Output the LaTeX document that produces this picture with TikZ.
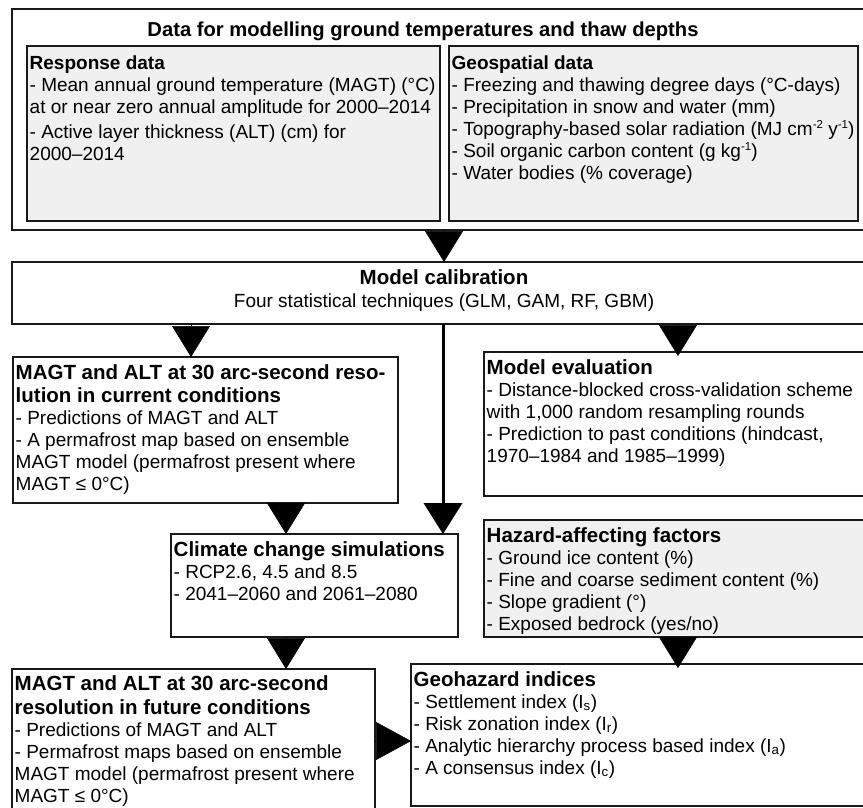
\documentclass[tikz,border=0pt]{standalone}
\usepackage{fontspec}
\setmainfont{Liberation Sans}
\usetikzlibrary{arrows.meta,positioning}
\def\headsm#1{{\fontsize{19}{22}\selectfont\bfseries #1}}
\def\headlg#1{{\fontsize{20.5}{24}\selectfont\bfseries #1}}
\def\upidx#1{\raisebox{7pt}{\fontsize{11.5}{12}\selectfont #1}}

\begin{document}
\begin{tikzpicture}[x=1pt, y=-1pt,
    box/.style={draw=black!90, line width=1.8pt, fill=white, anchor=north west, inner sep=0pt, outer sep=0pt},
    gbox/.style={box, fill=black!6},
    txt/.style={align=left, inner sep=0pt, font=\fontsize{19}{22}\selectfont},
    tri/.style={-{Triangle[width=38pt,length=#1]}, line width=0.5pt},
    tri/.default=31pt]
    \useasboundingbox (0,0) rectangle (863,808);
    \clip (0,0) rectangle (863,808);
    % boxes
    \node[box, minimum width=854pt, minimum height=221pt] (data) at (12,9) {};
    \node[gbox, minimum width=413pt, minimum height=175pt] (resp) at (27,46) {};
    \node[gbox, minimum width=409pt, minimum height=175pt] (geo) at (449,46) {};
    \node[box, minimum width=864pt, minimum height=62pt] (mcal) at (12,262) {};
    \node[box, minimum width=385pt, minimum height=146pt] (cur) at (13,357) {};
    \node[box, minimum width=382pt, minimum height=144pt] (eval) at (484,352) {};
    \node[gbox, minimum width=382pt, minimum height=117pt] (haz) at (484,520) {};
    \node[box, minimum width=287pt, minimum height=103pt] (clim) at (171,534) {};
    \node[box, minimum width=363pt, minimum height=145pt] (fut) at (12,669) {};
    \node[box, minimum width=455pt, minimum height=142pt] (ghz) at (411,664) {};
    % texts
    \node[txt, below=13pt of data.north, xshift=-16pt] (data-t) {\headsm{\fontsize{20.2}{24}\selectfont Data for modelling ground temperatures and thaw depths}};
    \node[txt, below right=10pt and 2.5pt of resp.north west] (resp-t) {\headsm{Response data}\\
        - Mean annual ground temperature (MAGT) (°C)\\
        at or near zero annual amplitude for 2000–2014\\[3pt]
        - Active layer thickness (ALT) (cm) for\\
        2000–2014};
    \node[txt, below right=10pt and 2.5pt of geo.north west] (geo-t) {\headsm{Geospatial data}\\
        - Freezing and thawing degree days (°C-days)\\
        - Precipitation in snow and water (mm)\\
        - Topography-based solar radiation (MJ cm\upidx{-2} y\upidx{-1})\\
        - Soil organic carbon content (g kg\upidx{-1})\\
        - Water bodies (\% coverage)};
    \node[txt, align=center, below=7pt of mcal.north] (mcal-t) {\headlg{Model calibration}\\[1pt]
        Four statistical techniques (GLM, GAM, RF, GBM)};
    \node[txt, below right=7pt and 2.5pt of cur.north west] (cur-t) {\headlg{MAGT and ALT at 30 arc-second reso-}\\[1pt]
        \headlg{lution in current conditions}\\
        - Predictions of MAGT and ALT\\
        - A permafrost map based on ensemble\\
        MAGT model (permafrost present where\\
        MAGT ≤ 0°C)};
    \node[txt, below right=7pt and 2.5pt of eval.north west] (eval-t) {\headlg{Model evaluation}\\
        - Distance-blocked cross-validation scheme\\
        with 1,000 random resampling rounds\\
        - Prediction to past conditions (hindcast,\\
        1970–1984 and 1985–1999)};
    \node[txt, below right=7pt and 2.5pt of haz.north west] (haz-t) {\headlg{Hazard-affecting factors}\\
        - Ground ice content (\%)\\
        - Fine and coarse sediment content (\%)\\
        - Slope gradient (°)\\
        - Exposed bedrock (yes/no)};
    \node[txt, below right=7pt and 2.5pt of clim.north west] (clim-t) {\headlg{Climate change simulations}\\
        - RCP2.6, 4.5 and 8.5\\
        - 2041–2060 and 2061–2080};
    \node[txt, below right=6pt and 2.5pt of fut.north west] (fut-t) {\headlg{MAGT and ALT at 30 arc-second}\\[2pt]
        \headlg{resolution in future conditions}\\
        - Predictions of MAGT and ALT\\
        - Permafrost maps based on ensemble\\
        MAGT model (permafrost present where\\
        MAGT ≤ 0°C)};
    \node[txt, below right=7pt and 2.5pt of ghz.north west] (ghz-t) {\headlg{Geohazard indices}\\
        - Settlement index (I\textsubscript{s})\\
        - Risk zonation index (I\textsubscript{r})\\
        - Analytic hierarchy process based index (I\textsubscript{a})\\
        - A consensus index (I\textsubscript{c})};
    % arrows
    \coordinate (c1) at (444,0);
    \coordinate (c2) at (191,0);
    \coordinate (c3) at (678,0);
    \coordinate (c4) at (443,0);
    \coordinate (c5) at (286,0);
    \coordinate (c6) at (0,741);
    \draw[tri] (data.south -| c1) -- (mcal.north -| c1);
    \draw[tri] (mcal.south -| c2) -- (cur.north -| c2);
    \draw[tri] (mcal.south -| c3) -- ([yshift=-4pt]eval.north -| c3);
    \draw[line width=3pt, -{Triangle[width=39pt,length=31pt,line width=0pt]}] (mcal.south -| c4) -- (clim.north -| c4);
    \draw[tri] (cur.south -| c5) -- (clim.north -| c5);
    \draw[tri] (clim.south -| c5) -- (fut.north -| c5);
    \draw[tri] (haz.south -| c3) -- ([yshift=-4pt]ghz.north -| c3);
    \draw[tri=35pt] (fut.east |- c6) -- (ghz.west |- c6);
\end{tikzpicture}
\end{document}
